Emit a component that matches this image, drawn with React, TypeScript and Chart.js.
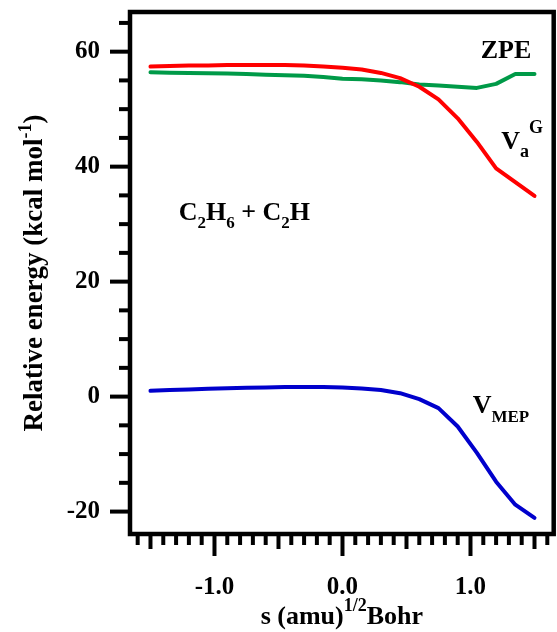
import React, { useEffect, useRef } from "react";
import { Chart, registerables } from "chart.js";

Chart.register(...registerables);

const FONT = '"Liberation Serif", "Times New Roman", serif';

// reaction coordinate s (amu^1/2 Bohr)
const sValues = [
  -1.5, -1.35, -1.2, -1.05, -0.9, -0.75, -0.6, -0.45, -0.3, -0.15, 0,
  0.15, 0.3, 0.45, 0.6, 0.75, 0.9, 1.05, 1.2, 1.35, 1.5,
];
// Vibrationally adiabatic ground-state potential V_a^G (kcal/mol)
const vaG = [
  57.4, 57.5, 57.6, 57.6, 57.7, 57.7, 57.7, 57.7, 57.6, 57.4, 57.2,
  56.9, 56.3, 55.4, 53.9, 51.7, 48.4, 44.3, 39.7, 37.3, 34.9,
];
// Zero-point energy (kcal/mol)
const zpe = [
  56.4, 56.35, 56.3, 56.25, 56.2, 56.1, 56.0, 55.9, 55.8, 55.6, 55.3,
  55.2, 55.0, 54.7, 54.3, 54.1, 53.9, 53.7, 54.4, 56.1, 56.1,
];
// Minimum energy path potential V_MEP (kcal/mol)
const vMep = [
  1.0, 1.15, 1.25, 1.35, 1.45, 1.55, 1.6, 1.65, 1.65, 1.65, 1.6,
  1.4, 1.15, 0.6, -0.45, -2.0, -5.2, -9.8, -14.8, -18.8, -21.1,
];

const xMajorTicks = [-1, 0, 1];
const yMajorTicks = [-20, 0, 20, 40, 60];

const X_MIN = -1.66;
const X_MAX = 1.65;
const Y_MIN = -23.9;
const Y_MAX = 66.9;

type Part = { t: string; size: number; dy?: number };
type Note = { s: number; e: number; parts: Part[] };

const notes: Note[] = [
  { s: 1.08, e: 58.9, parts: [{ t: "ZPE", size: 26 }] },
  {
    s: 1.24,
    e: 43.1,
    parts: [
      { t: "V", size: 26 },
      { t: "a", size: 18, dy: 8 },
      { t: "G", size: 18, dy: -16 },
    ],
  },
  {
    s: -1.28,
    e: 30.7,
    parts: [
      { t: "C", size: 26 },
      { t: "2", size: 17, dy: 8 },
      { t: "H", size: 26 },
      { t: "6", size: 17, dy: 8 },
      { t: " + ", size: 26 },
      { t: "C", size: 26 },
      { t: "2", size: 17, dy: 8 },
      { t: "H", size: 26 },
    ],
  },
  {
    s: 1.017,
    e: -2.83,
    parts: [
      { t: "V", size: 26 },
      { t: "MEP", size: 17, dy: 9 },
    ],
  },
];

const yTitle: Part[] = [
  { t: "Relative energy (kcal mol", size: 27 },
  { t: "-1", size: 18, dy: -11 },
  { t: ")", size: 27 },
];
const xTitle: Part[] = [
  { t: "s (amu)", size: 26 },
  { t: "1/2", size: 18, dy: -13 },
  { t: "Bohr", size: 26 },
];

function setFont(ctx: CanvasRenderingContext2D, size: number) {
  ctx.font = `bold ${size}px ${FONT}`;
}

function partsWidth(ctx: CanvasRenderingContext2D, parts: Part[]) {
  let w = 0;
  for (const p of parts) {
    setFont(ctx, p.size);
    w += ctx.measureText(p.t).width;
  }
  return w;
}

function drawParts(ctx: CanvasRenderingContext2D, parts: Part[], x: number, y: number) {
  let cx = x;
  ctx.textAlign = "left";
  ctx.textBaseline = "alphabetic";
  for (const p of parts) {
    setFont(ctx, p.size);
    ctx.fillText(p.t, cx, y + (p.dy || 0));
    cx += ctx.measureText(p.t).width;
  }
}

const decorPlugin = {
  id: "decor",
  afterDraw(chart: any) {
    const { ctx, chartArea: a } = chart;
    const xs = chart.scales.x;
    const ys = chart.scales.y;
    ctx.save();
    ctx.fillStyle = "#000";
    ctx.strokeStyle = "#000";
    ctx.lineCap = "butt";

    // y ticks
    ctx.lineWidth = 4;
    for (let v = -20; v <= 65; v += 5) {
      const py = ys.getPixelForValue(v);
      const major = v % 20 === 0;
      const len = major ? 20 : 11;
      ctx.beginPath();
      ctx.moveTo(a.left, py);
      ctx.lineTo(a.left - len, py);
      ctx.stroke();
    }
    // x ticks
    for (let i = -16; i <= 16; i++) {
      const v = i / 10;
      const px = xs.getPixelForValue(v);
      let len = 11;
      if (i % 10 === 0) len = 22;
      else if (i % 5 === 0) len = 15;
      ctx.beginPath();
      ctx.moveTo(px, a.bottom);
      ctx.lineTo(px, a.bottom + len);
      ctx.stroke();
    }

    // frame
    ctx.lineWidth = 4.5;
    ctx.strokeRect(a.left, a.top, a.right - a.left, a.bottom - a.top);

    // annotations
    for (const n of notes) {
      drawParts(ctx, n.parts, xs.getPixelForValue(n.s), ys.getPixelForValue(n.e));
    }

    // x title
    const xw = partsWidth(ctx, xTitle);
    drawParts(ctx, xTitle, (a.left + a.right) / 2 - xw / 2, 624);

    // y title (rotated)
    const yw = partsWidth(ctx, yTitle);
    ctx.save();
    ctx.translate(42, (a.top + a.bottom) / 2);
    ctx.rotate(-Math.PI / 2);
    drawParts(ctx, yTitle, -yw / 2, 0);
    ctx.restore();

    ctx.restore();
  },
};

export default function App() {
  const ref = useRef<HTMLCanvasElement | null>(null);

  useEffect(() => {
    if (!ref.current) return;
    const mk = (ys: number[]) => sValues.map((s, i) => ({ x: s, y: ys[i] }));
    const common = {
      borderWidth: 4,
      pointRadius: 0,
      tension: 0,
      fill: false,
      borderCapStyle: "round" as const,
      borderJoinStyle: "round" as const,
    };
    const chart = new Chart(ref.current, {
      type: "line",
      data: {
        datasets: [
          { label: "V_a^G", data: mk(vaG), borderColor: "#ff0000", ...common },
          { label: "ZPE", data: mk(zpe), borderColor: "#009a48", ...common },
          { label: "V_MEP", data: mk(vMep), borderColor: "#0000cc", ...common },
        ],
      },
      options: {
        animation: false,
        responsive: false,
        devicePixelRatio: 1,
        layout: { padding: { left: 0, top: 12, right: 3.3, bottom: 0 } },
        plugins: {
          legend: { display: false },
          tooltip: { enabled: false },
        },
        scales: {
          x: {
            type: "linear",
            position: "bottom",
            min: X_MIN,
            max: X_MAX,
            grid: { display: false, drawTicks: false },
            border: { display: false },
            afterFit: (s: any) => {
              s.height = 98;
              s.paddingLeft = 0;
              s.paddingRight = 0;
            },
            afterBuildTicks: (s: any) => {
              s.ticks = xMajorTicks.map((v) => ({ value: v }));
            },
            ticks: {
              autoSkip: false,
              maxRotation: 0,
              padding: 39,
              color: "#000",
              font: { family: FONT, size: 25, weight: "bold" },
              callback: (v: any) => Number(v).toFixed(1),
            },
          },
          y: {
            type: "linear",
            min: Y_MIN,
            max: Y_MAX,
            grid: { display: false, drawTicks: false },
            border: { display: false },
            afterFit: (s: any) => {
              s.width = 130;
              s.paddingTop = 0;
              s.paddingBottom = 0;
            },
            afterBuildTicks: (s: any) => {
              s.ticks = yMajorTicks.map((v) => ({ value: v }));
            },
            ticks: {
              autoSkip: false,
              padding: 30,
              color: "#000",
              font: { family: FONT, size: 25, weight: "bold" },
              callback: (v: any) => String(v),
            },
          },
        },
      } as any,
      plugins: [decorPlugin],
    });
    return () => chart.destroy();
  }, []);

  return (
    <div style={{ position: "absolute", left: 0, top: 0, width: 557, height: 632, background: "#fff" }}>
      <canvas ref={ref} width={557} height={632} style={{ width: 557, height: 632, display: "block" }} />
    </div>
  );
}
